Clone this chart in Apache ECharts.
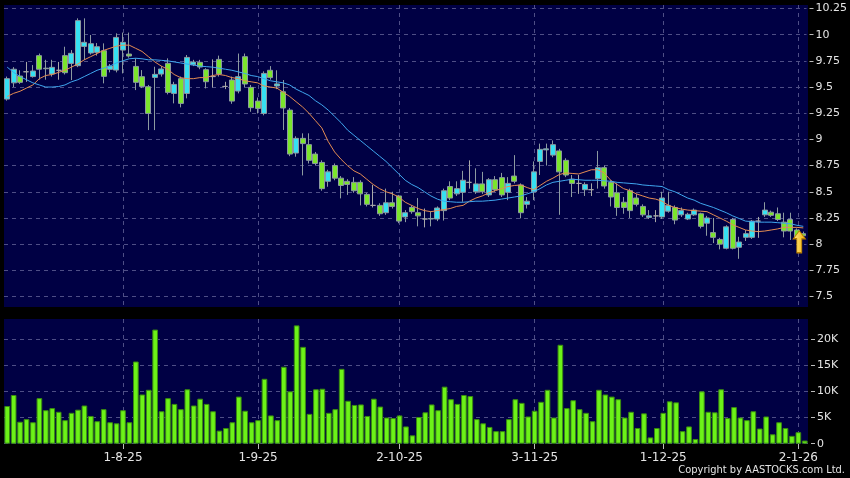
<!DOCTYPE html>
<html>
<head>
<meta charset="utf-8">
<title>Daily chart</title>
<script src="https://cdn.jsdelivr.net/npm/echarts@6/dist/echarts.min.js"></script>
<style>
  html, body { margin: 0; padding: 0; background: #000; }
  #chart { width: 850px; height: 478px; }
</style>
</head>
<body>
<div id="chart"></div>
<script>
// trading days (D-M-YY)
const dates = [
  '8-7-25','9-7-25','10-7-25','11-7-25','14-7-25','15-7-25','16-7-25','17-7-25','18-7-25','21-7-25',
  '22-7-25','23-7-25','24-7-25','25-7-25','28-7-25','29-7-25','30-7-25','31-7-25',
  '1-8-25','4-8-25','5-8-25','6-8-25','7-8-25','8-8-25','11-8-25','12-8-25','13-8-25','14-8-25',
  '15-8-25','18-8-25','19-8-25','20-8-25','21-8-25','22-8-25','25-8-25','26-8-25','27-8-25','28-8-25','29-8-25',
  '1-9-25','2-9-25','3-9-25','4-9-25','5-9-25','8-9-25','9-9-25','10-9-25','11-9-25','12-9-25',
  '15-9-25','16-9-25','17-9-25','18-9-25','19-9-25','22-9-25','23-9-25','24-9-25','25-9-25','26-9-25','29-9-25','30-9-25',
  '2-10-25','3-10-25','6-10-25','7-10-25','8-10-25','9-10-25','10-10-25','13-10-25','14-10-25','15-10-25',
  '16-10-25','17-10-25','20-10-25','21-10-25','22-10-25','23-10-25','24-10-25','27-10-25','28-10-25','30-10-25','31-10-25',
  '3-11-25','4-11-25','5-11-25','6-11-25','7-11-25','10-11-25','11-11-25','12-11-25','13-11-25','14-11-25',
  '17-11-25','18-11-25','19-11-25','20-11-25','21-11-25','24-11-25','25-11-25','26-11-25','27-11-25','28-11-25',
  '1-12-25','2-12-25','3-12-25','4-12-25','5-12-25','8-12-25','9-12-25','10-12-25','11-12-25','12-12-25',
  '15-12-25','16-12-25','17-12-25','18-12-25','19-12-25','22-12-25','23-12-25','24-12-25','29-12-25','30-12-25','31-12-25',
  '2-1-26','5-1-26'
];
const tickDates = ['1-8-25', '1-9-25', '2-10-25', '3-11-25', '1-12-25', '2-1-26'];

// price candles
const open = [
  9.385,9.54,9.605,9.646,9.60,9.80,9.68,9.624,9.66,9.80,
  9.726,9.704,9.888,9.825,9.831,9.847,9.669,9.662,9.853,9.815,
  9.697,9.599,9.503,9.592,9.624,9.726,9.439,9.58,9.439,9.713,
  9.736,9.666,9.60,9.764,9.506,9.567,9.462,9.79,9.497,9.366,
  9.248,9.66,9.51,9.455,9.28,8.87,9.01,8.95,8.86,8.78,
  8.60,8.75,8.63,8.60,8.59,8.59,8.475,8.37,8.37,8.30,
  8.395,8.46,8.26,8.35,8.30,8.24,8.24,8.24,8.32,8.55,
  8.48,8.495,8.59,8.50,8.575,8.47,8.615,8.635,8.495,8.65,
  8.565,8.38,8.50,8.79,8.90,8.85,8.89,8.80,8.62,8.58,
  8.52,8.52,8.625,8.73,8.59,8.49,8.40,8.51,8.44,8.36,
  8.255,8.27,8.26,8.315,8.35,8.28,8.24,8.28,8.29,8.20,
  8.11,8.045,7.96,8.235,7.97,8.065,8.065,8.22,8.28,8.305,
  8.29,8.21,8.235,8.135,8.10
];
const close = [
  9.58,9.67,9.545,9.646,9.653,9.67,9.675,9.688,9.66,9.637,
  9.822,10.134,9.927,9.914,9.885,9.602,9.70,9.974,9.927,9.796,
  9.545,9.506,9.248,9.621,9.672,9.449,9.525,9.344,9.783,9.739,
  9.691,9.551,9.60,9.624,9.506,9.366,9.599,9.529,9.303,9.296,
  9.63,9.59,9.53,9.30,8.86,9.01,8.96,8.80,8.77,8.53,
  8.69,8.63,8.56,8.57,8.51,8.48,8.38,8.37,8.29,8.395,
  8.36,8.22,8.30,8.31,8.27,8.24,8.245,8.345,8.51,8.44,
  8.53,8.61,8.59,8.575,8.50,8.615,8.52,8.47,8.58,8.60,
  8.30,8.41,8.69,8.905,8.91,8.95,8.69,8.66,8.58,8.58,
  8.57,8.52,8.73,8.555,8.45,8.35,8.35,8.32,8.38,8.28,
  8.27,8.27,8.44,8.37,8.23,8.32,8.285,8.325,8.17,8.25,
  8.065,8.00,8.165,7.96,8.02,8.10,8.22,8.22,8.325,8.275,
  8.235,8.125,8.125,8.065,8.08
];
const low = [
  9.37,9.50,9.53,9.55,9.59,9.57,9.57,9.60,9.57,9.62,
  9.567,9.69,9.758,9.81,9.80,9.535,9.64,9.64,9.63,9.78,
  9.471,9.49,9.089,9.089,9.60,9.43,9.344,9.306,9.392,9.70,
  9.67,9.487,9.497,9.60,9.48,9.34,9.44,9.50,9.264,9.248,
  9.23,9.57,9.48,9.09,8.84,8.835,8.656,8.77,8.75,8.51,
  8.548,8.61,8.437,8.47,8.49,8.37,8.36,8.35,8.27,8.28,
  8.34,8.20,8.21,8.29,8.17,8.16,8.17,8.22,8.225,8.42,
  8.46,8.405,8.53,8.48,8.48,8.45,8.50,8.45,8.42,8.58,
  8.246,8.34,8.42,8.66,8.75,8.83,8.28,8.64,8.45,8.48,
  8.46,8.46,8.53,8.53,8.36,8.27,8.29,8.25,8.36,8.26,
  8.24,8.21,8.24,8.30,8.19,8.26,8.23,8.27,8.15,8.08,
  8.01,7.95,7.95,7.95,7.86,8.03,8.05,8.06,8.26,8.26,
  8.22,8.065,8.04,8.04,8.06
];
const high = [
  9.60,9.69,9.66,9.74,9.71,9.82,9.76,9.76,9.74,9.885,
  9.853,10.156,10.156,9.997,9.92,9.917,9.72,10.013,10.02,10.02,
  9.774,9.662,9.52,9.694,9.70,9.774,9.55,9.60,9.806,9.76,
  9.76,9.68,9.764,9.80,9.55,9.60,9.82,9.82,9.52,9.40,
  9.65,9.70,9.66,9.567,9.30,9.03,9.058,9.058,8.88,8.80,
  8.71,8.77,8.65,8.62,8.64,8.61,8.49,8.565,8.39,8.53,
  8.50,8.47,8.325,8.37,8.44,8.34,8.31,8.36,8.53,8.60,
  8.60,8.70,8.80,8.724,8.69,8.63,8.65,8.68,8.64,8.85,
  8.58,8.45,8.79,8.96,8.96,8.99,8.91,8.82,8.66,8.66,
  8.59,8.58,8.89,8.75,8.61,8.58,8.45,8.53,8.48,8.38,
  8.325,8.325,8.50,8.50,8.37,8.35,8.30,8.34,8.30,8.27,
  8.25,8.06,8.18,8.25,8.07,8.135,8.23,8.26,8.40,8.32,
  8.35,8.30,8.30,8.15,8.12
];

// moving averages
const ma10 = [
  9.41,9.44,9.46,9.49,9.52,9.58,9.61,9.62,9.64,9.66,
  9.69,9.72,9.76,9.79,9.82,9.85,9.87,9.89,9.90,9.90,
  9.87,9.84,9.79,9.74,9.70,9.67,9.62,9.59,9.58,9.58,
  9.59,9.59,9.61,9.62,9.61,9.59,9.58,9.56,9.55,9.54,
  9.51,9.50,9.49,9.45,9.41,9.36,9.31,9.25,9.18,9.11,
  8.98,8.88,8.81,8.75,8.70,8.67,8.62,8.57,8.53,8.50,
  8.48,8.45,8.40,8.37,8.34,8.32,8.31,8.32,8.33,8.34,
  8.36,8.37,8.41,8.44,8.46,8.49,8.51,8.53,8.55,8.56,
  8.565,8.54,8.52,8.56,8.60,8.63,8.665,8.68,8.675,8.67,
  8.69,8.71,8.71,8.68,8.61,8.57,8.53,8.51,8.48,8.46,
  8.44,8.43,8.41,8.37,8.35,8.335,8.325,8.32,8.315,8.31,
  8.28,8.25,8.22,8.185,8.16,8.135,8.125,8.12,8.125,8.135,
  8.145,8.16,8.16,8.16,8.155
];
const ma20 = [
  9.69,9.64,9.60,9.57,9.54,9.52,9.50,9.50,9.505,9.52,
  9.55,9.57,9.60,9.63,9.66,9.68,9.70,9.73,9.75,9.77,
  9.775,9.77,9.76,9.76,9.755,9.75,9.74,9.73,9.72,9.71,
  9.70,9.695,9.69,9.68,9.67,9.66,9.645,9.63,9.61,9.60,
  9.58,9.56,9.55,9.54,9.52,9.48,9.45,9.42,9.37,9.33,
  9.28,9.22,9.16,9.09,9.04,8.99,8.94,8.89,8.84,8.79,
  8.73,8.67,8.61,8.57,8.54,8.50,8.46,8.43,8.41,8.405,
  8.40,8.40,8.405,8.41,8.41,8.415,8.42,8.43,8.44,8.45,
  8.46,8.48,8.50,8.53,8.565,8.59,8.60,8.61,8.62,8.615,
  8.61,8.61,8.61,8.605,8.60,8.59,8.585,8.58,8.575,8.565,
  8.56,8.555,8.55,8.52,8.50,8.47,8.44,8.42,8.39,8.37,
  8.35,8.325,8.30,8.27,8.245,8.22,8.215,8.21,8.21,8.21,
  8.205,8.20,8.195,8.18,8.17
];

// volume in thousands
const volume = [
  7.2,9.3,4.2,4.7,4.1,8.7,6.4,6.8,6.1,4.5,
  5.9,6.5,7.3,5.3,4.3,6.6,4.1,3.9,6.4,4.1,
  15.7,9.4,10.3,21.8,6.2,8.7,7.6,6.6,10.4,7.3,
  8.6,7.6,6.2,2.5,3.0,4.1,9.0,6.3,4.1,4.5,
  12.4,5.4,4.5,14.7,10.0,22.6,18.5,5.7,10.4,10.5,
  5.9,6.6,14.3,8.2,7.4,7.5,5.3,8.6,7.1,5.0,
  4.9,5.4,3.3,1.6,5.1,6.0,7.5,6.4,10.9,8.5,
  7.6,9.3,9.1,4.7,3.9,3.2,2.4,2.4,4.7,8.5,
  7.8,5.2,6.3,8.0,10.3,5.0,18.9,6.8,8.3,6.6,
  5.9,4.3,10.3,9.4,9.0,8.5,5.0,6.1,3.0,5.8,
  1.2,3.0,5.9,8.1,7.9,2.4,3.3,0.9,10.0,6.1,
  6.0,10.4,4.9,7.0,5.0,4.5,6.2,2.9,5.2,1.8,
  4.1,3.0,1.5,2.2,0.6
];

const candles = open.map((o, i) => [o, close[i], low[i], high[i]]);
const isTick = (i) => tickDates.indexOf(dates[i]) >= 0;
const last = dates.length - 1;

const navy = '#000044';
const gridLine = { color: '#4e4e86', type: [4, 4], width: 1 };
const textColor = '#e4e4e4';

const chart = echarts.init(document.getElementById('chart'));

const option = {
  animation: false,
  backgroundColor: '#000',
  grid: [
    // panel backgrounds
    { left: 4, width: 804, top: 5, height: 302, show: true, backgroundColor: navy, borderWidth: 0 },
    { left: 4, width: 804, top: 8.5, height: 288 },
    { left: 4, width: 804, top: 319, height: 125, show: true, backgroundColor: navy, borderWidth: 0 },
    { left: 4, width: 804, top: 339, height: 104.7 }
  ],
  xAxis: [
    {
      type: 'category', gridIndex: 0, data: dates,
      axisLine: { show: false }, axisTick: { show: false }, axisLabel: { show: false },
      splitLine: { show: true, interval: isTick, alignWithLabel: true, lineStyle: gridLine }
    },
    { type: 'category', gridIndex: 1, data: dates, show: false },
    {
      type: 'category', gridIndex: 2, data: dates,
      axisLine: { show: false },
      axisTick: { show: true, interval: isTick, alignWithLabel: true, length: 5, lineStyle: { color: '#bbbbbb' } },
      axisLabel: { interval: isTick, color: textColor, fontSize: 12, fontFamily: 'DejaVu Sans', margin: 8 },
      splitLine: { show: true, interval: isTick, alignWithLabel: true, lineStyle: gridLine }
    },
    { type: 'category', gridIndex: 3, data: dates, show: false }
  ],
  yAxis: [
    { type: 'value', gridIndex: 0, min: 0, max: 1, show: false },
    {
      type: 'value', gridIndex: 1, position: 'right', offset: 3,
      min: 7.5, max: 10.25, interval: 0.25,
      axisLine: { show: false },
      axisTick: { show: true, length: 4, lineStyle: { color: '#bbbbbb' } },
      axisLabel: { color: textColor, fontSize: 11, fontFamily: 'DejaVu Sans', margin: 6 },
      splitLine: { show: true, lineStyle: gridLine }
    },
    { type: 'value', gridIndex: 2, min: 0, max: 1, show: false },
    {
      type: 'value', gridIndex: 3, position: 'right', offset: 3,
      min: 0, max: 20, interval: 5,
      axisLine: { show: false },
      axisTick: { show: true, length: 4, lineStyle: { color: '#bbbbbb' } },
      axisLabel: {
        color: textColor, fontSize: 11, fontFamily: 'DejaVu Sans', margin: 6,
        formatter: v => (v === 0 ? '0' : v + 'K')
      },
      splitLine: { show: true, lineStyle: gridLine }
    }
  ],
  graphic: [
    {
      type: 'text', right: 5, top: 465,
      style: { text: 'Copyright by AASTOCKS.com Ltd.', fill: textColor, font: '11px "DejaVu Sans Condensed", "DejaVu Sans"' }
    }
  ],
  series: [
    {
      name: 'price', type: 'candlestick', xAxisIndex: 1, yAxisIndex: 1,
      data: candles, barWidth: 5.5,
      itemStyle: {
        color: '#36e0f2', color0: '#7be52c',
        borderColor: '#8c9aa0', borderColor0: '#8c9aa0', borderColorDoji: '#a8a8a8',
        borderWidth: 1
      },
      markPoint: {
        symbol: 'path://M6,0 L12,8 L8.5,8 L8.5,22 L3.5,22 L3.5,8 L0,8 Z',
        symbolSize: [12, 22],
        symbolOffset: [-4, 6],
        label: { show: false },
        itemStyle: {
          color: {
            type: 'linear', x: 0, y: 0, x2: 1, y2: 0,
            colorStops: [{ offset: 0, color: '#ffec8c' }, { offset: 1, color: '#f2ad00' }]
          },
          borderColor: '#b87d00', borderWidth: 1
        },
        data: [{ coord: [last, close[last]] }]
      }
    },
    {
      name: 'MA10', type: 'line', xAxisIndex: 1, yAxisIndex: 1, data: ma10,
      symbol: 'none', z: 3, lineStyle: { color: '#e58c52', width: 1 }
    },
    {
      name: 'MA20', type: 'line', xAxisIndex: 1, yAxisIndex: 1, data: ma20,
      symbol: 'none', z: 3, lineStyle: { color: '#3fa6ee', width: 1 }
    },
    {
      name: 'volume', type: 'bar', xAxisIndex: 3, yAxisIndex: 3, data: volume,
      barCategoryGap: '12%', clip: false,
      itemStyle: { color: '#6cf218', borderColor: '#3a8c10', borderWidth: 1 }
    }
  ]
};

chart.setOption(option);
</script>
</body>
</html>
